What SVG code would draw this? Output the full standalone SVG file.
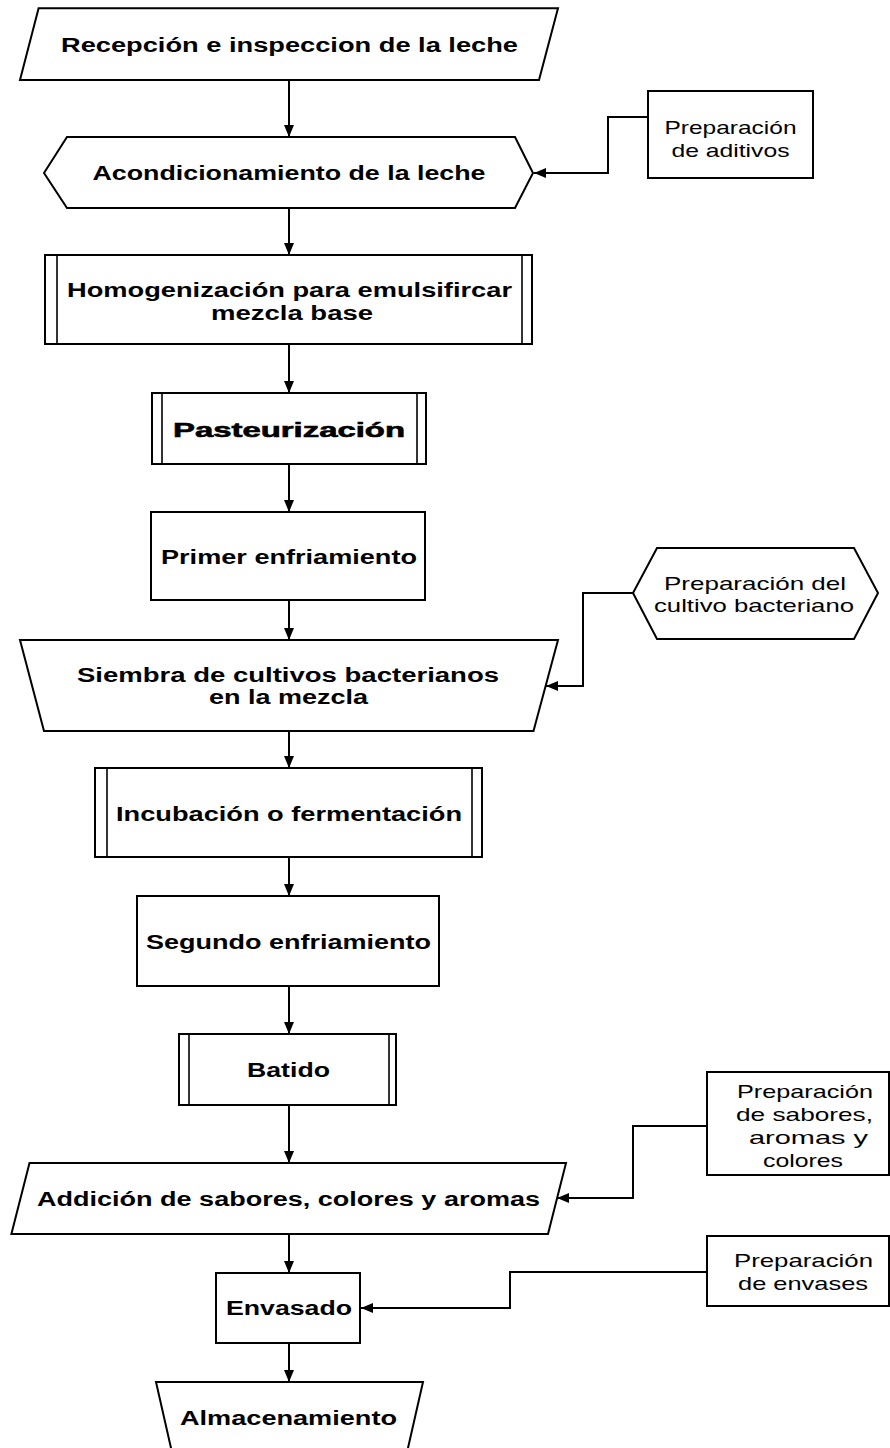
<svg xmlns="http://www.w3.org/2000/svg" width="890" height="1448" viewBox="0 0 890 1448">
  <style>
    .shape { fill: #ffffff; stroke: #000000; stroke-width: 2; }
    .bar { fill: none; stroke: #000000; stroke-width: 1.6; }
    .wire { fill: none; stroke: #000000; stroke-width: 2; }
    .main { font-family: "Liberation Sans", Arial, sans-serif; font-size: 19.5px; font-weight: bold; fill: #000000; text-anchor: middle; }
    .big { font-size: 20px; stroke: #000000; stroke-width: 0.6; }
    .side { font-family: "Liberation Sans", Arial, sans-serif; font-size: 19px; fill: #000000; text-anchor: middle; }
  </style>
  <defs>
    <marker id="head" viewBox="0 0 12 10" refX="12" refY="5" markerWidth="12" markerHeight="10" markerUnits="userSpaceOnUse" orient="auto">
      <path d="M0,0 L12,5 L0,10 Z" fill="#000000"/>
    </marker>
  </defs>
  <rect x="0" y="0" width="890" height="1448" fill="#ffffff"/>

  <!-- connectors -->
  <g id="connectors">
    <line class="wire" x1="289" y1="80" x2="289" y2="137" marker-end="url(#head)"/>
    <line class="wire" x1="289" y1="208" x2="289" y2="255" marker-end="url(#head)"/>
    <line class="wire" x1="289" y1="344" x2="289" y2="393" marker-end="url(#head)"/>
    <line class="wire" x1="289" y1="464" x2="289" y2="512" marker-end="url(#head)"/>
    <line class="wire" x1="289" y1="600" x2="289" y2="640" marker-end="url(#head)"/>
    <line class="wire" x1="289" y1="731" x2="289" y2="768" marker-end="url(#head)"/>
    <line class="wire" x1="289" y1="857" x2="289" y2="896" marker-end="url(#head)"/>
    <line class="wire" x1="289" y1="986" x2="289" y2="1034" marker-end="url(#head)"/>
    <line class="wire" x1="289" y1="1105" x2="289" y2="1163" marker-end="url(#head)"/>
    <line class="wire" x1="289" y1="1234" x2="289" y2="1273" marker-end="url(#head)"/>
    <line class="wire" x1="289" y1="1343" x2="289" y2="1382" marker-end="url(#head)"/>
    <polyline class="wire" points="648,117 608,117 608,173 534,173" marker-end="url(#head)"/>
    <polyline class="wire" points="633,593 583,593 583,686 546,686" marker-end="url(#head)"/>
    <polyline class="wire" points="707,1126 633,1126 633,1198 557,1198" marker-end="url(#head)"/>
    <polyline class="wire" points="707,1272 510,1272 510,1308 361,1308" marker-end="url(#head)"/>
  </g>

  <!-- main process column -->
  <g id="recepcion">
    <polygon class="shape" points="38.6,8.3 558,8.3 539,80 20,80"/>
    <text class="main" x="289.5" y="52" textLength="457" lengthAdjust="spacingAndGlyphs">Recepción e inspeccion de la leche</text>
  </g>
  <g id="acondicionamiento">
    <polygon class="shape" points="44,173 67,137 515,137 533,173 515,208 67,208"/>
    <text class="main" x="289" y="180" textLength="393" lengthAdjust="spacingAndGlyphs">Acondicionamiento de la leche</text>
  </g>
  <g id="homogenizacion">
    <rect class="shape" x="45" y="255" width="487" height="89"/>
    <line class="bar" x1="57" y1="255" x2="57" y2="344"/>
    <line class="bar" x1="522" y1="255" x2="522" y2="344"/>
    <text class="main" x="289.5" y="297" textLength="445" lengthAdjust="spacingAndGlyphs">Homogenización para emulsifircar</text>
    <text class="main" x="292" y="320" textLength="162" lengthAdjust="spacingAndGlyphs">mezcla base</text>
  </g>
  <g id="pasteurizacion">
    <rect class="shape" x="152" y="393" width="274" height="71"/>
    <line class="bar" x1="162" y1="393" x2="162" y2="464"/>
    <line class="bar" x1="417" y1="393" x2="417" y2="464"/>
    <text class="main big" x="289" y="437" textLength="232" lengthAdjust="spacingAndGlyphs">Pasteurización</text>
  </g>
  <g id="primer-enfriamiento">
    <rect class="shape" x="151" y="512" width="274" height="88"/>
    <text class="main" x="289" y="564" textLength="256" lengthAdjust="spacingAndGlyphs">Primer enfriamiento</text>
  </g>
  <g id="siembra">
    <polygon class="shape" points="20,640 558,640 533.5,731 44,731"/>
    <text class="main" x="288" y="682" textLength="422" lengthAdjust="spacingAndGlyphs">Siembra de cultivos  bacterianos</text>
    <text class="main" x="288.5" y="704" textLength="159" lengthAdjust="spacingAndGlyphs">en la mezcla</text>
  </g>
  <g id="incubacion">
    <rect class="shape" x="95" y="768" width="387" height="89"/>
    <line class="bar" x1="107" y1="768" x2="107" y2="857"/>
    <line class="bar" x1="472" y1="768" x2="472" y2="857"/>
    <text class="main" x="289" y="821" textLength="346" lengthAdjust="spacingAndGlyphs">Incubación o fermentación</text>
  </g>
  <g id="segundo-enfriamiento">
    <rect class="shape" x="137" y="896" width="302" height="90"/>
    <text class="main" x="288.5" y="949" textLength="285" lengthAdjust="spacingAndGlyphs">Segundo enfriamiento</text>
  </g>
  <g id="batido">
    <rect class="shape" x="179" y="1034" width="217" height="71"/>
    <line class="bar" x1="189" y1="1034" x2="189" y2="1105"/>
    <line class="bar" x1="389" y1="1034" x2="389" y2="1105"/>
    <text class="main" x="288.5" y="1077" textLength="83" lengthAdjust="spacingAndGlyphs">Batido</text>
  </g>
  <g id="adicion">
    <polygon class="shape" points="29.5,1163 566,1163 548,1234 11.4,1234"/>
    <text class="main" x="288.5" y="1206" textLength="503" lengthAdjust="spacingAndGlyphs">Addición de sabores, colores y aromas</text>
  </g>
  <g id="envasado">
    <rect class="shape" x="216" y="1273" width="144" height="70"/>
    <text class="main" x="289" y="1315" textLength="126" lengthAdjust="spacingAndGlyphs">Envasado</text>
  </g>
  <g id="almacenamiento">
    <polygon class="shape" points="156,1382 423,1382 403,1470 176,1470"/>
    <text class="main" x="288.5" y="1425" textLength="217" lengthAdjust="spacingAndGlyphs">Almacenamiento</text>
  </g>

  <!-- side preparations -->
  <g id="prep-aditivos">
    <rect class="shape" x="648" y="91" width="165" height="87"/>
    <text class="side" x="730.5" y="134" textLength="132" lengthAdjust="spacingAndGlyphs">Preparación</text>
    <text class="side" x="730.5" y="157" textLength="118" lengthAdjust="spacingAndGlyphs">de aditivos</text>
  </g>
  <g id="prep-cultivo">
    <polygon class="shape" points="633,593 657,548 854,548 878,593 854,639 657,639"/>
    <text class="side" x="755" y="590" textLength="182" lengthAdjust="spacingAndGlyphs">Preparación del</text>
    <text class="side" x="754" y="612" textLength="200" lengthAdjust="spacingAndGlyphs">cultivo bacteriano</text>
  </g>
  <g id="prep-sabores">
    <rect class="shape" x="707" y="1072" width="182" height="103"/>
    <text class="side" x="805" y="1098" textLength="136" lengthAdjust="spacingAndGlyphs">Preparación</text>
    <text class="side" x="804.5" y="1121" textLength="137" lengthAdjust="spacingAndGlyphs">de sabores,</text>
    <text class="side" x="808.5" y="1144" textLength="119" lengthAdjust="spacingAndGlyphs">aromas y</text>
    <text class="side" x="803" y="1167" textLength="80" lengthAdjust="spacingAndGlyphs">colores</text>
  </g>
  <g id="prep-envases">
    <rect class="shape" x="707" y="1236" width="182" height="70"/>
    <text class="side" x="803.5" y="1267" textLength="139" lengthAdjust="spacingAndGlyphs">Preparación</text>
    <text class="side" x="803" y="1290" textLength="130" lengthAdjust="spacingAndGlyphs">de envases</text>
  </g>
</svg>
